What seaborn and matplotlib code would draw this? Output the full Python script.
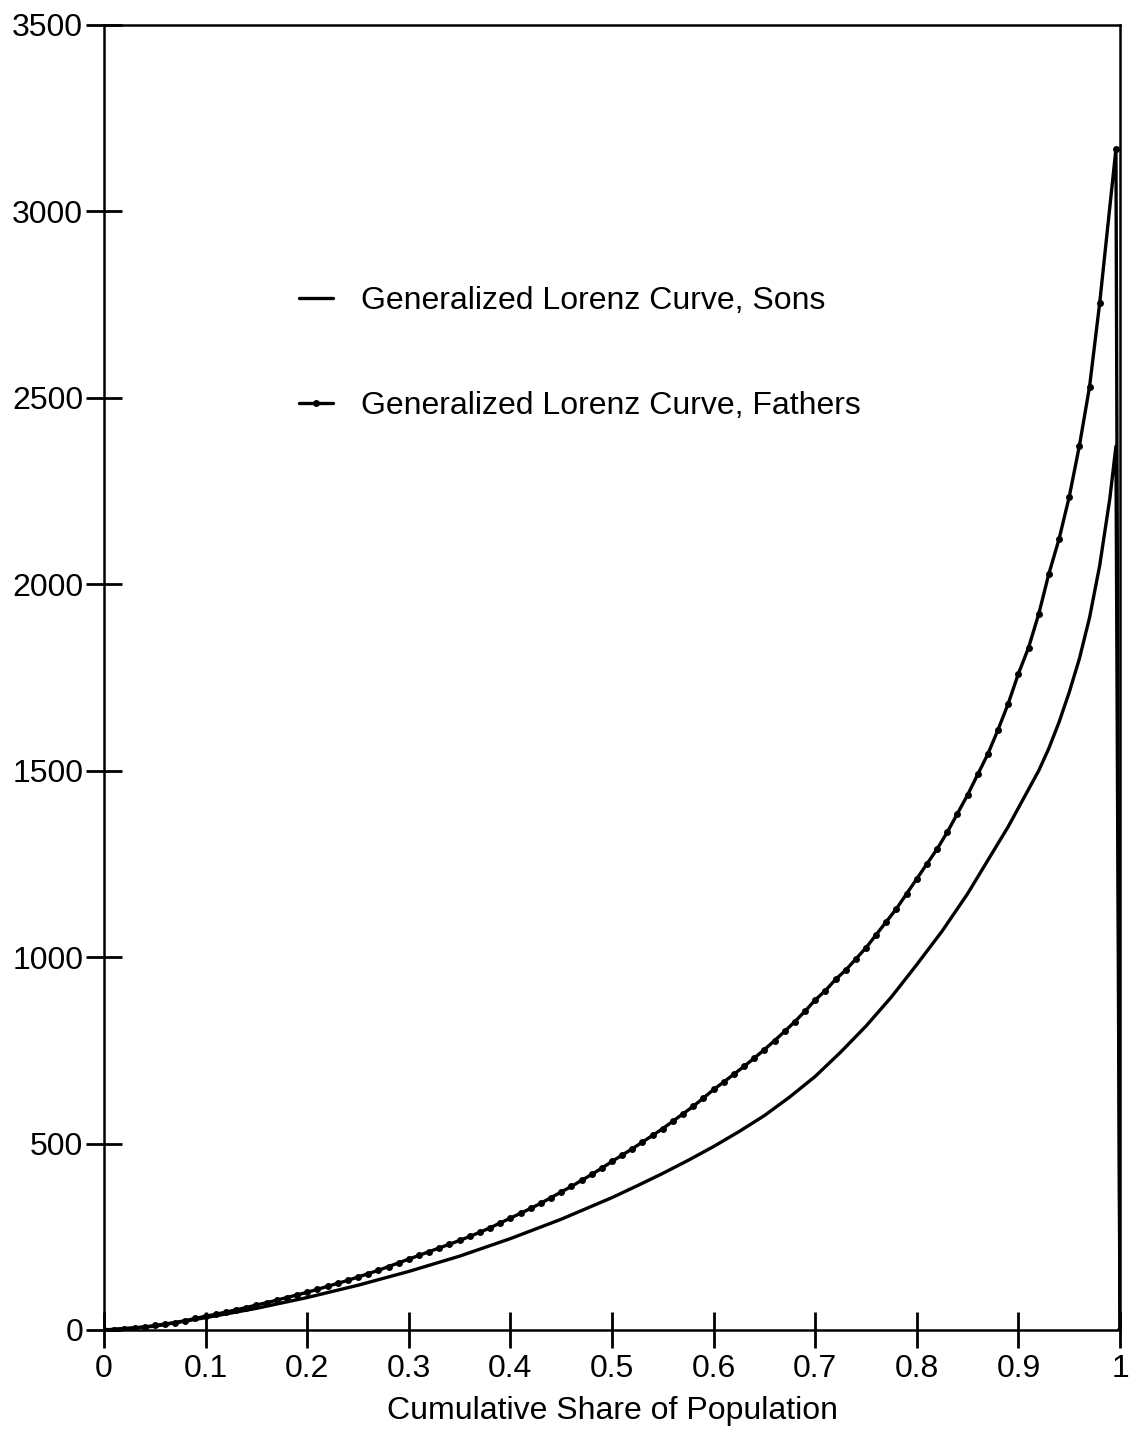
import numpy as np
import pandas as pd
import matplotlib
matplotlib.use('Agg')
import matplotlib.pyplot as plt
import seaborn as sns

# fathers: one point per percentile (these carry the dot markers), top point, then drop to 0 at share 1
fathers_share = [round(i / 100, 2) for i in range(99)] + [0.996, 1.0]
fathers_glc = [0, 1, 3, 5, 8, 12, 16, 20, 25, 31,
               37, 42, 48, 54, 60, 67, 73, 80, 87, 94,
               101, 109, 117, 125, 133, 142, 151, 160, 170, 180,
               190, 200, 210, 220, 230, 240, 251, 262, 274, 287,
               300, 313, 326, 340, 355, 370, 385, 401, 417, 434,
               452, 469, 486, 504, 522, 540, 560, 580, 600, 622,
               645, 665, 686, 707, 729, 752, 776, 801, 827, 855,
               885, 910, 940, 965, 995, 1025, 1060, 1095, 1130, 1170,
               1210, 1250, 1290, 1335, 1385, 1435, 1490, 1545, 1610, 1680,
               1760, 1830, 1920, 2028, 2121, 2234, 2371, 2529, 2754, 3167,
               0]

# sons: plain line
sons_share = [0, 0.05, 0.1, 0.15, 0.2, 0.25, 0.3, 0.35, 0.4, 0.45,
              0.5, 0.525, 0.55, 0.575, 0.6, 0.625, 0.65, 0.675, 0.7, 0.725,
              0.75, 0.775, 0.8, 0.825, 0.85, 0.86, 0.87, 0.88, 0.89, 0.9,
              0.91, 0.92, 0.93, 0.94, 0.95, 0.96, 0.97, 0.98, 0.99, 0.996,
              1.0]
sons_glc = [0, 10, 33, 58, 87, 120, 157, 198, 245, 297,
            355, 387, 420, 455, 492, 532, 575, 625, 680, 745,
            815, 893, 980, 1070, 1170, 1215, 1260, 1305, 1350, 1400,
            1450, 1500, 1560, 1630, 1710, 1800, 1910, 2050, 2230, 2370,
            0]

x_ticks = [0, 0.1, 0.2, 0.3, 0.4, 0.5, 0.6, 0.7, 0.8, 0.9, 1]
x_tick_labels = ['0', '0.1', '0.2', '0.3', '0.4', '0.5', '0.6', '0.7', '0.8', '0.9', '1']
y_ticks = [0, 500, 1000, 1500, 2000, 2500, 3000, 3500]

sons_df = pd.DataFrame({'share': sons_share, 'glc': sons_glc})
fathers_df = pd.DataFrame({'share': fathers_share, 'glc': fathers_glc})

sns.set_style('ticks')
plt.rcParams['font.family'] = ['Liberation Sans', 'DejaVu Sans']
plt.rcParams['text.color'] = 'black'
plt.rcParams['axes.labelcolor'] = 'black'

fig = plt.figure(figsize=(11.32, 14.31), dpi=100)
ax = fig.add_axes([0.0919, 0.0706, 0.8975, 0.912])

sns.lineplot(data=sons_df, x='share', y='glc', ax=ax, color='black', lw=2.4,
             sort=False, estimator=None, label='Generalized Lorenz Curve, Sons')
sns.lineplot(data=fathers_df, x='share', y='glc', ax=ax, color='black', lw=2.4,
             marker='o', markersize=5, markeredgewidth=0, sort=False, estimator=None,
             label='Generalized Lorenz Curve, Fathers')

ax.set_xlim(0, 1)
ax.set_ylim(0, 3500)
ax.set_xticks(x_ticks)
ax.set_xticklabels(x_tick_labels)
ax.set_yticks(y_ticks)
ax.tick_params(axis='both', direction='inout', length=26, width=2, labelsize=23, colors='black')
ax.tick_params(axis='x', pad=4)
ax.tick_params(axis='y', pad=2)
for s in ax.spines.values():
    s.set_linewidth(1.8)
    s.set_color('black')

ax.set_xlabel('Cumulative Share of Population', fontsize=23, labelpad=9, color='black')
ax.set_ylabel('')

leg = ax.legend(loc='center left', bbox_to_anchor=(0.164, 0.748), frameon=False, fontsize=23,
                handlelength=1.06, handletextpad=0.87, labelspacing=2.36, numpoints=1)
for t in leg.get_texts():
    t.set_color('black')

fig.savefig('out.png', dpi=100)
